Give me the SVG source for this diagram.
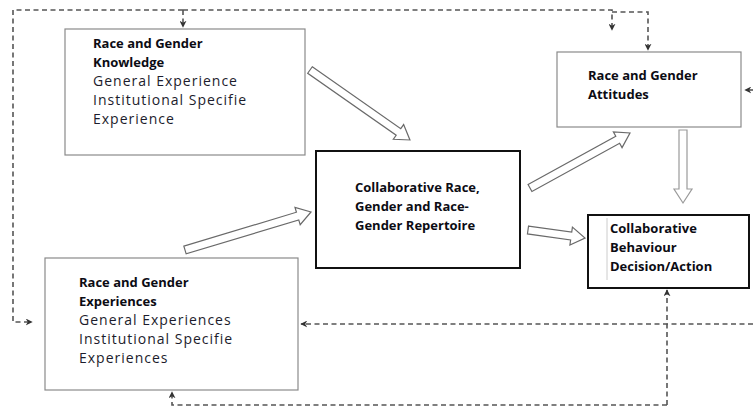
<svg xmlns="http://www.w3.org/2000/svg" width="753" height="407" viewBox="0 0 753 407">
  <style>
    .box { fill: #fff; stroke: #8a8a8a; stroke-width: 1.2; }
    .box-strong { fill: #fff; stroke: #111; stroke-width: 2; }
    .t { font-family: "Open Sans", "Noto Sans", sans-serif; font-size: 14px; letter-spacing: 1px; fill: #1c1c2c; }
    .b { font-size: 13px; letter-spacing: 0; font-weight: bold; fill: #0c0c14; }
    .dash { fill: none; stroke: #555; stroke-width: 1.6; stroke-dasharray: 5 3.5; }
    .blk { fill: #fff; stroke: #6a6a6a; stroke-width: 1.2; stroke-linejoin: miter; }
    .blk-light { fill: #fff; stroke: #9a9a9a; stroke-width: 1.2; }
  </style>
  <defs>
    <marker id="head" viewBox="0 0 10 10" refX="9" refY="5" markerWidth="7" markerHeight="7" markerUnits="userSpaceOnUse" orient="auto">
      <path d="M0,0 L10,5 L0,10 L3,5 Z" fill="#333"/>
    </marker>
  </defs>
  <rect width="753" height="407" fill="#fff"/>

  <!-- feedback connectors -->
  <g id="connectors">
    <path class="dash" d="M183,10 L13,10 L13,322 L32,322" marker-end="url(#head)"/>
    <path class="dash" d="M183,10 L183,27" marker-end="url(#head)"/>
    <path class="dash" d="M183,10 L612,10 L612,30" marker-end="url(#head)"/>
    <path class="dash" d="M612,12 L648,12 L648,50" marker-end="url(#head)"/>
    <path class="dash" d="M753,90 L745,90" marker-end="url(#head)"/>
    <path class="dash" d="M753,324 L301,324" marker-end="url(#head)"/>
    <path class="dash" d="M667,405 L172,405 L172,392" marker-end="url(#head)"/>
    <path class="dash" d="M667,405 L667,290" marker-end="url(#head)"/>

    <!-- hollow block arrows -->
    <polygon class="blk" transform="translate(310,70) rotate(35)" points="0,-4 108,-4 108,-9 122,0 108,9 108,4 0,4"/>
    <polygon class="blk" transform="translate(185,250) rotate(-16.78)" points="0,-4 117.6,-4 117.6,-9 131.6,0 117.6,9 117.6,4 0,4"/>
    <polygon class="blk" transform="translate(530,188) rotate(-28.81)" points="0,-4 100.1,-4 100.1,-9 114.1,0 100.1,9 100.1,4 0,4"/>
    <polygon class="blk" transform="translate(528,230) rotate(7.99)" points="0,-4 43.6,-4 43.6,-9 57.6,0 43.6,9 43.6,4 0,4"/>
    <polygon class="blk-light" transform="translate(683,130) rotate(90)" points="0,-4 59,-4 59,-9 73,0 59,9 59,4 0,4"/>
  </g>

  <g id="knowledge">
    <rect class="box" x="65" y="29" width="240" height="126"/>
    <text class="t" x="93" y="48"><tspan class="b">Race and Gender</tspan><tspan class="b" x="93" dy="19">Knowledge</tspan><tspan x="93" dy="19">General Experience</tspan><tspan x="93" dy="19">Institutional Specifie</tspan><tspan x="93" dy="19">Experience</tspan></text>
  </g>

  <g id="attitudes">
    <rect class="box" x="557" y="52" width="184" height="75"/>
    <text class="t b" x="588" y="80">Race and Gender<tspan x="588" dy="19">Attitudes</tspan></text>
  </g>

  <g id="repertoire">
    <rect class="box-strong" x="316" y="151" width="204" height="117"/>
    <text class="t b" x="355" y="192">Collaborative Race,<tspan x="355" dy="19">Gender and Race-</tspan><tspan x="355" dy="19">Gender Repertoire</tspan></text>
  </g>

  <g id="behaviour">
    <rect class="box-strong" x="588" y="215" width="161" height="73"/>
    <line x1="607" y1="218" x2="607" y2="280" stroke="#ccc" stroke-width="1"/>
    <text class="t b" x="610" y="233">Collaborative<tspan x="610" dy="19">Behaviour</tspan><tspan x="610" dy="19">Decision/Action</tspan></text>
  </g>

  <g id="experiences">
    <rect class="box" x="45" y="258" width="253" height="132"/>
    <text class="t" x="79" y="287"><tspan class="b">Race and Gender</tspan><tspan class="b" x="79" dy="19">Experiences</tspan><tspan x="79" dy="19">General Experiences</tspan><tspan x="79" dy="19">Institutional Specifie</tspan><tspan x="79" dy="19">Experiences</tspan></text>
  </g>
</svg>
